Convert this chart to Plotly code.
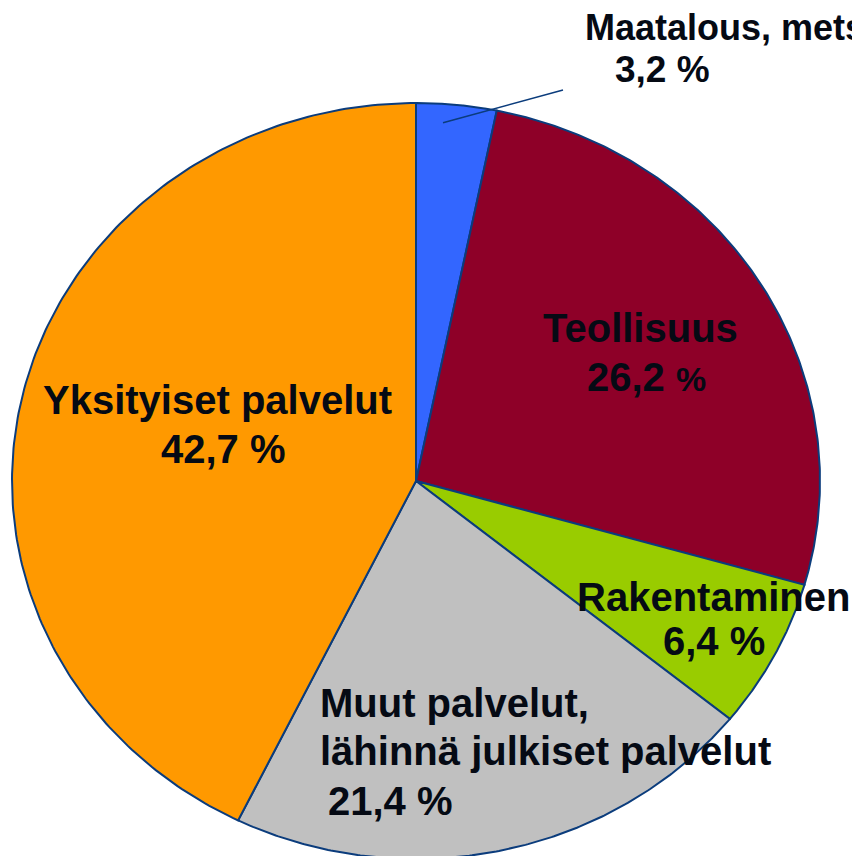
import numpy as np
import plotly.graph_objects as go

# Data
categories = ["Maatalous, metsätalous", "Teollisuus", "Rakentaminen",
              "Muut palvelut, lähinnä julkiset palvelut", "Yksityiset palvelut"]
values = [3.2, 26.2, 6.4, 21.4, 42.7]
value_labels = ["3,2 %", "26,2 <span style='font-size:34px'>%</span>", "6,4 %",
                "21,4 %", "42,7 %"]
colors = ["#3366FF", "#8E0028", "#99CC00", "#C0C0C0", "#FF9900"]

EDGE = "#0B3C7C"
TXT = "#050A14"
FONT = "Liberation Sans, Arial, sans-serif"

W, H = 852, 856
cx_px, cy_px = 416, 481
rx_px, ry_px = 404, 378

fig = go.Figure()

total = sum(values)
start = 0.0
for cat, v, col in zip(categories, values, colors):
    a0 = start / total * 2 * np.pi
    a1 = (start + v) / total * 2 * np.pi
    th = np.linspace(a0, a1, 200)
    xs = np.concatenate([[0], np.sin(th), [0]])
    ys = np.concatenate([[0], np.cos(th), [0]])
    fig.add_trace(go.Scatter(x=xs, y=ys, mode="lines", fill="toself",
                             fillcolor=col, line=dict(color=EDGE, width=2),
                             name=cat, hoverinfo="name", showlegend=False))
    start += v


def px2x(px):
    return (px - cx_px) / rx_px


def px2y(py):
    return (cy_px - py) / ry_px


# leader line for the small slice
a_lead = (0.35 * values[0]) / total * 2 * np.pi
fig.add_trace(go.Scatter(x=[0.95 * np.sin(a_lead), px2x(563)],
                         y=[0.95 * np.cos(a_lead), px2y(90)],
                         mode="lines", line=dict(color=EDGE, width=1.5),
                         hoverinfo="skip", showlegend=False))

# text lines: (text, x_px, y_px, xanchor, size) in screen pixels
lines = [
    ("Maatalous, metsätalous", 583, 27, "left", 36),
    (value_labels[0], 613, 69, "left", 37),
    ("Teollisuus", 640, 328, "center", 40),
    (value_labels[1], 646, 377, "center", 40),
    ("Rakentaminen", 713, 597, "center", 40),
    (value_labels[2], 714, 641, "center", 40),
    ("Muut palvelut,", 318, 703, "left", 40),
    ("lähinnä julkiset palvelut", 318, 751, "left", 40),
    (value_labels[3], 326, 801, "left", 40),
    ("Yksityiset palvelut", 217, 400, "center", 40),
    (value_labels[4], 223, 449, "center", 40),
]
for t, xp, yp, xa, sz in lines:
    fig.add_annotation(x=px2x(xp), y=px2y(yp), text="<b>%s</b>" % t,
                       showarrow=False, xanchor=xa, yanchor="middle",
                       font=dict(family=FONT, size=sz, color=TXT))

fig.update_layout(
    width=W, height=H, margin=dict(l=0, r=0, t=0, b=0),
    paper_bgcolor="white", plot_bgcolor="white",
    xaxis=dict(range=[px2x(0), px2x(W)], visible=False, fixedrange=True),
    yaxis=dict(range=[px2y(H), px2y(0)], visible=False, fixedrange=True),
    showlegend=False,
)

fig.write_html(
    "out.html",
    config={"displayModeBar": False},
    post_script="document.body.style.margin='0';document.body.style.overflow='hidden';",
)
